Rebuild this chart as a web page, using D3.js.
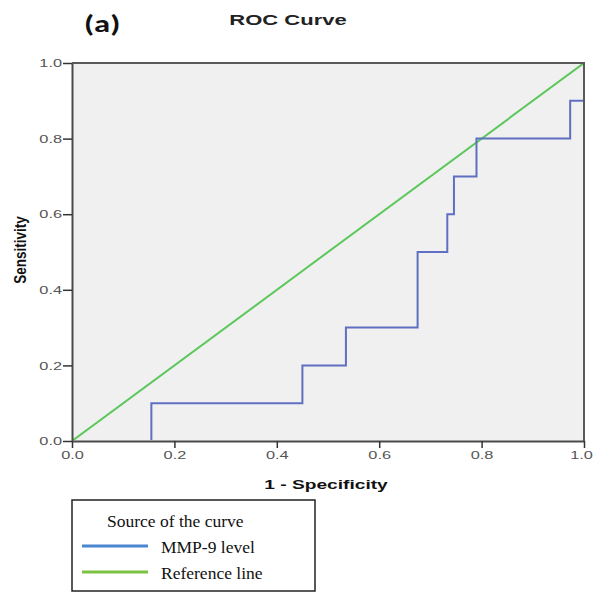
<!DOCTYPE html>
<html><head><meta charset="utf-8">
<script src="https://cdn.jsdelivr.net/npm/d3@7"></script>
<style>body{margin:0;background:#fff}</style>
</head><body>
<script>
const rocX = [0, 0.155, 0.155, 0.45, 0.45, 0.535, 0.535, 0.675, 0.675, 0.733, 0.733, 0.746, 0.746, 0.79, 0.79, 0.973, 0.973, 1.0, 1.0];
const rocY = [0, 0, 0.1, 0.1, 0.2, 0.2, 0.3, 0.3, 0.5, 0.5, 0.6, 0.6, 0.7, 0.7, 0.8, 0.8, 0.9, 0.9, 1.0];
const refX = [0, 1];
const refY = [0, 1];
const tickValues = [0, 0.2, 0.4, 0.6, 0.8, 1.0];
const legendLabels = ["MMP-9 level", "Reference line"];
const colors = ["#5f6fc2", "#5cc85c"];

const W = 594, H = 602;
const SX = 1.42; // horizontal stretch of chart text
const svg = d3.select("body").append("svg").attr("width", W).attr("height", H);
const m = {l: 72, r: 584, t: 63, b: 441};
const x = d3.scaleLinear().domain([0, 1]).range([m.l, m.r]);
const y = d3.scaleLinear().domain([0, 1]).range([m.b, m.t]);

svg.append("rect").attr("x", m.l).attr("y", m.t).attr("width", m.r - m.l).attr("height", m.b - m.t)
  .attr("fill", "#f0f0f0");

svg.append("clipPath").attr("id", "plotclip").append("rect")
  .attr("x", m.l - 2).attr("y", m.t + 1).attr("width", m.r - m.l + 1).attr("height", m.b - m.t - 2);

const line = d3.line().x(d => x(d[0])).y(d => y(d[1]));
const plot = svg.append("g").attr("clip-path", "url(#plotclip)");
plot.append("path").datum(refX.map((v, i) => [v, refY[i]])).attr("d", line)
  .attr("fill", "none").attr("stroke", colors[1]).attr("stroke-width", 2);
plot.append("path").datum(rocX.map((v, i) => [v, rocY[i]])).attr("d", line)
  .attr("fill", "none").attr("stroke", colors[0]).attr("stroke-width", 2);

// frame top/right
svg.append("path").attr("d", `M${m.l},${m.t}H${m.r}V${m.b}`).attr("fill", "none")
  .attr("stroke", "#5a5a5a").attr("stroke-width", 2);

// axes
const xAxis = svg.append("g").attr("transform", `translate(0,${m.b})`)
  .call(d3.axisBottom(x).tickValues(tickValues).tickFormat(d3.format(".1f")).tickSize(7).tickSizeOuter(0).tickPadding(3));
const yAxis = svg.append("g").attr("transform", `translate(${m.l},0)`)
  .call(d3.axisLeft(y).tickValues(tickValues).tickFormat(d3.format(".1f")).tickSize(9).tickSizeOuter(0).tickPadding(1));
[xAxis, yAxis].forEach(g => {
  g.select(".domain").attr("stroke", "#4a4a4a").attr("stroke-width", 2);
  g.selectAll(".tick line").attr("stroke", "#333").attr("stroke-width", 1.5);
  g.selectAll(".tick text").attr("font-family", "Liberation Sans, Arial, sans-serif")
    .attr("font-size", 11.5).attr("fill", "#555");
});
xAxis.selectAll(".tick text").attr("transform", `scale(${SX},1)`)
  .attr("x", d => d === 1 ? -3 / SX : 0);
yAxis.selectAll(".tick text").attr("transform", `scale(${SX},1)`).attr("x", -10 / SX);

// titles
svg.append("text").attr("transform", "translate(84,32) scale(1.3,1)").text("(a)")
  .attr("font-family", "Carlito, Liberation Sans, sans-serif").attr("font-weight", "bold").attr("font-size", 25).attr("fill", "#111");
svg.append("text").attr("transform", `translate(288,25) scale(${SX},1)`).attr("text-anchor", "middle").text("ROC Curve")
  .attr("font-family", "Liberation Sans, Arial, sans-serif").attr("font-weight", "bold").attr("font-size", 15.5).attr("fill", "#222");
svg.append("text").attr("transform", `translate(326,489) scale(${SX},1)`).attr("text-anchor", "middle").text("1 - Specificity")
  .attr("font-family", "Liberation Sans, Arial, sans-serif").attr("font-weight", "bold").attr("font-size", 13.5).attr("fill", "#111");
svg.append("text").attr("transform", `translate(26,250) scale(1.2,1) rotate(-90)`).attr("text-anchor", "middle").text("Sensitivity")
  .attr("font-family", "Liberation Sans, Arial, sans-serif").attr("font-weight", "bold").attr("font-size", 13.5).attr("fill", "#111");

// legend
const lg = svg.append("g");
lg.append("rect").attr("x", 72).attr("y", 500).attr("width", 243).attr("height", 91)
  .attr("fill", "#fff").attr("stroke", "#222").attr("stroke-width", 1.5);
lg.append("text").attr("x", 107).attr("y", 527).text("Source of the curve")
  .attr("font-family", "Liberation Serif, Times New Roman, serif").attr("font-size", 17.5).attr("fill", "#111");
legendLabels.forEach((lab, i) => {
  const yy = 546 + i * 26;
  lg.append("line").attr("x1", 82).attr("x2", 148).attr("y1", yy).attr("y2", yy)
    .attr("stroke", i === 0 ? "#4a86d0" : "#7cc242").attr("stroke-width", 3);
  lg.append("text").attr("x", 161).attr("y", yy + 7).text(lab)
    .attr("font-family", "Liberation Serif, Times New Roman, serif").attr("font-size", 17.5).attr("fill", "#111");
});
</script>
</body></html>
